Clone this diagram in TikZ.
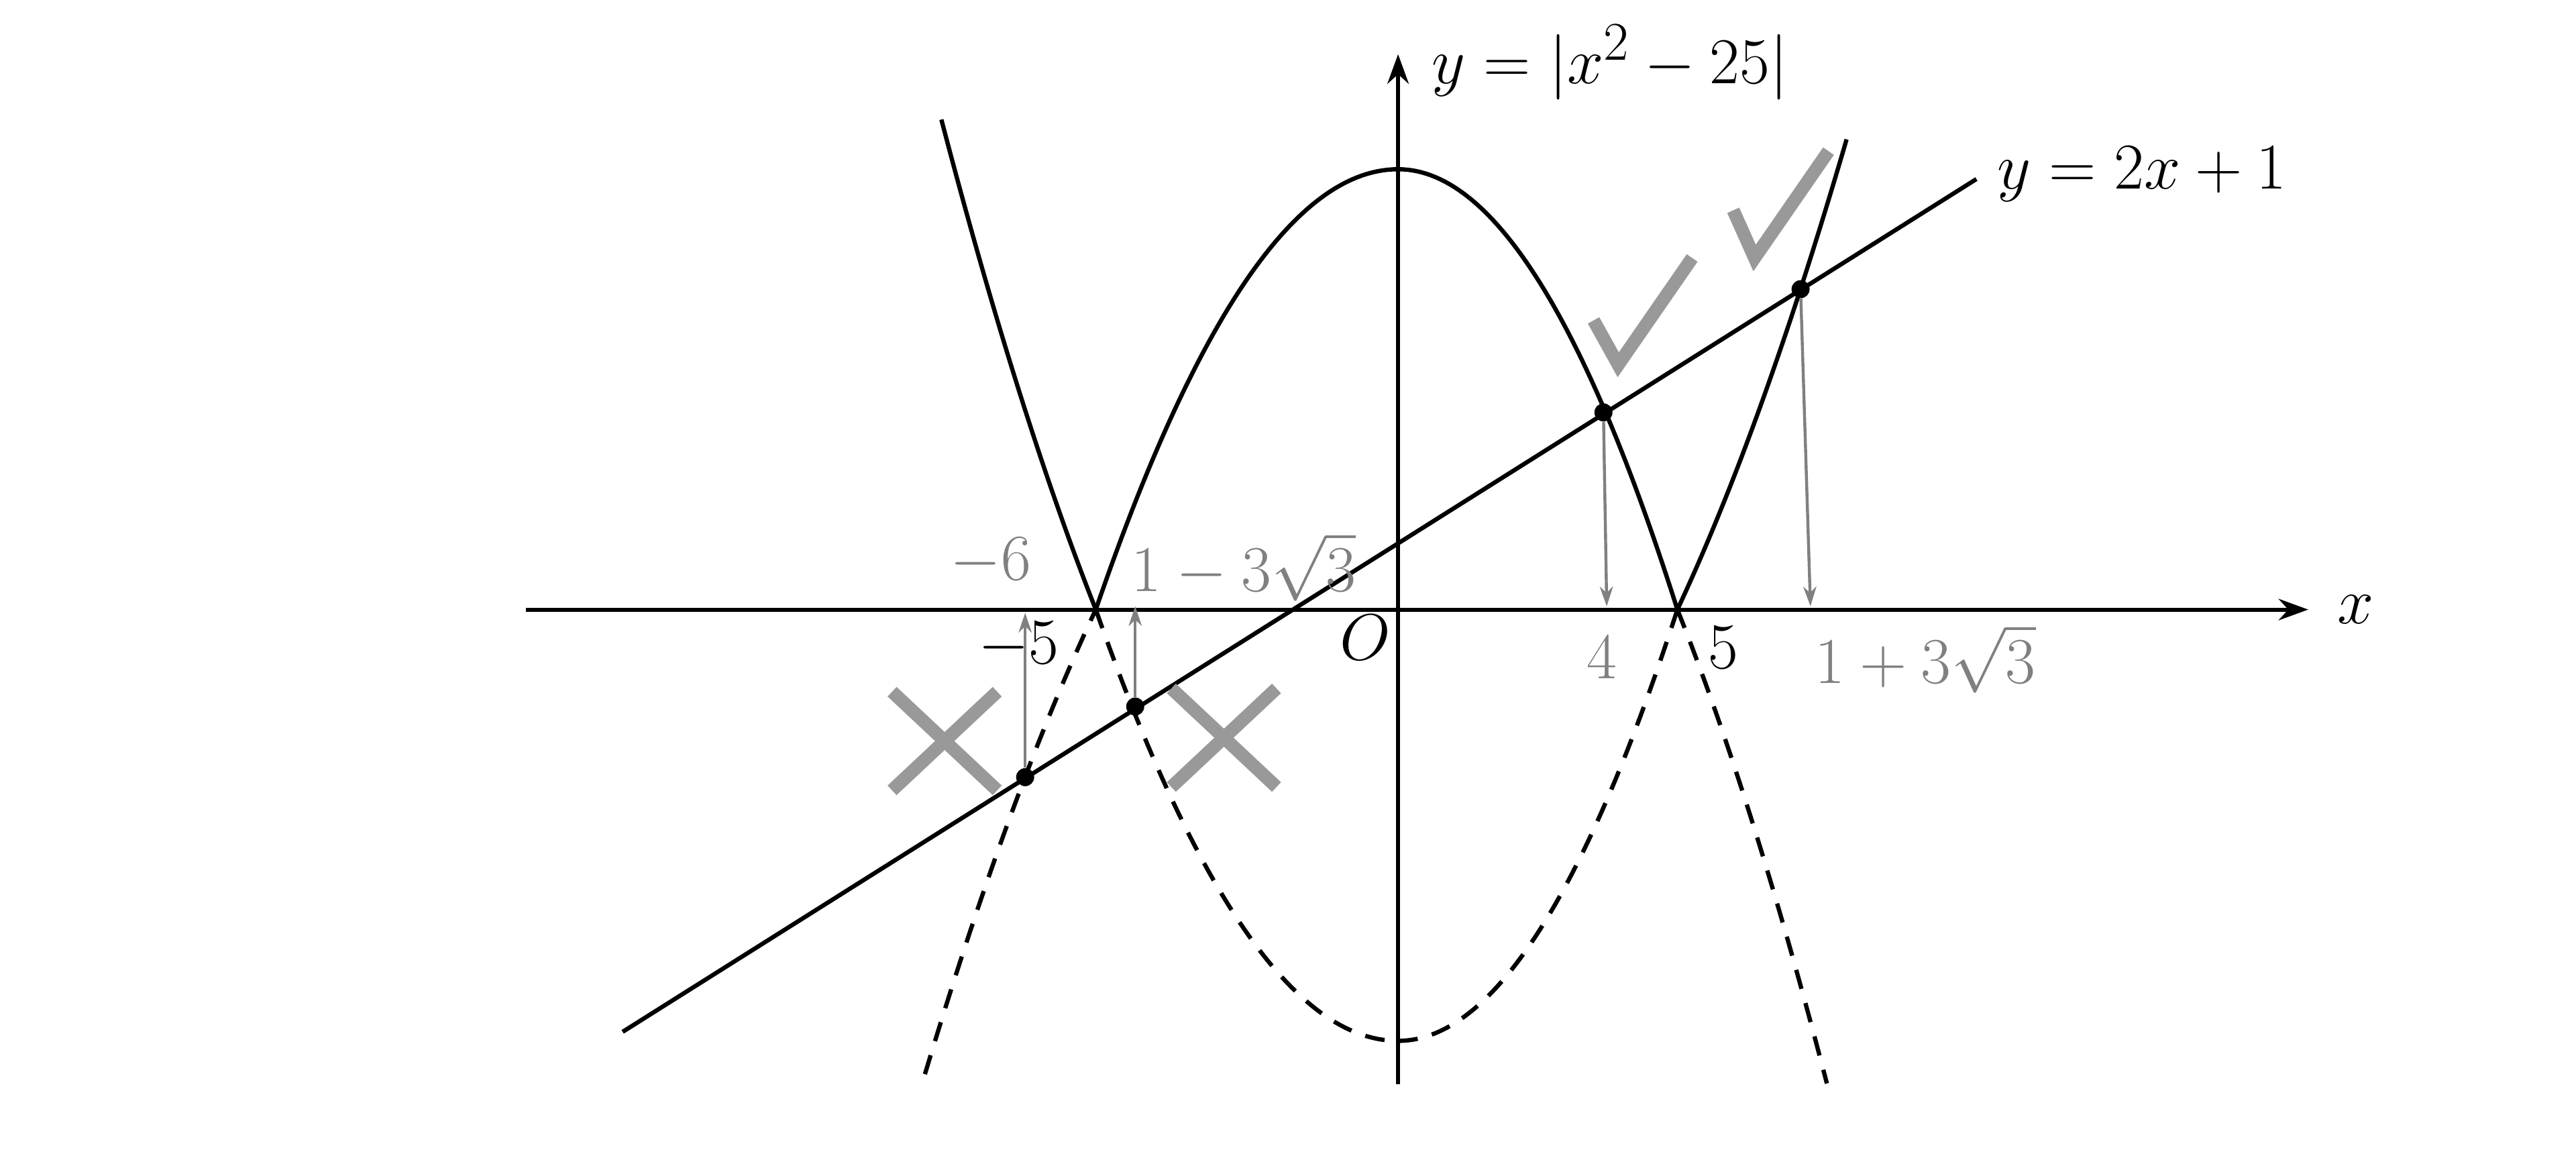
\documentclass[tikz,border=0pt]{standalone}
\usetikzlibrary{arrows.meta}
\begin{document}
\begin{tikzpicture}[x=1pt,y=-1pt,
  curve/.style={line width=2.6pt},
  dcurve/.style={line width=2.6pt,dash pattern=on 12pt off 9pt},
  garrow/.style={gray,line width=1.8pt,-{Stealth[length=12pt,width=8pt]}},
  glabel/.style={text=gray,font=\fontsize{24.88}{28}\selectfont,scale=1.6,transform shape},
  blabel/.style={font=\fontsize{24.88}{28}\selectfont,scale=1.6,transform shape},
  mark1/.style={gray!80,line width=8pt},
  dot/.style={circle,fill=black,inner sep=0pt,minimum size=11pt}]
\useasboundingbox (0,0) rectangle (1568,706);
% axes
\coordinate (xs) at (320,371); \coordinate (xe) at (1405,371);
\coordinate (ys) at (851,660); \coordinate (ye) at (851,33);
\draw[line width=2.4pt,-{Stealth[length=18pt,width=13pt]}] (xs) -- (xe);
\draw[line width=2.4pt,-{Stealth[length=18pt,width=13pt]}] (ys) -- (ye);
% curves
\draw[curve] plot[domain=573:667,samples=40] (\x,{371-9.3*(((\x-851)/36.8)^2-25)});
\draw[curve] plot[domain=667:851,samples=60] (\x,{371-10.72*(25-((\x-851)/36.8)^2)});
\draw[curve] plot[domain=851:1021,samples=60] (\x,{371-10.72*(25-((\x-851)/34)^2)});
\draw[curve] plot[domain=1021:1124,samples=40] (\x,{371-7.25*(((\x-851)/34)^2-25)});
\draw[dcurve] plot[domain=563:667,samples=40] (\x,{371+7.8*(((\x-851)/36.8)^2-25)});
\draw[dcurve] plot[domain=667:851,samples=60] (\x,{371+10.5*(25-((\x-851)/36.8)^2)});
\draw[dcurve] plot[domain=851:1021,samples=60] (\x,{371+10.5*(25-((\x-851)/34)^2)});
\draw[dcurve] plot[domain=1021:1112,samples=40] (\x,{371+8.5*(((\x-851)/34)^2-25)});
% line
\coordinate (la) at (379,628); \coordinate (lb) at (1203,109);
\draw[curve] (la) -- (lb);
% points
\node[dot] (p1) at (624,473) {};
\node[dot] (p2) at (691,430) {};
\node[dot] (p3) at (976,251) {};
\node[dot] (p4) at (1096,176) {};
\coordinate (q1) at (624,373); \coordinate (q2) at (691,369);
\coordinate (q3) at (978,369); \coordinate (q4) at (1102,369);
\draw[garrow] (p1) -- (q1);
\draw[garrow] (p2) -- (q2);
\draw[garrow] (p3) -- (q3);
\draw[garrow] (p4) -- (q4);
% labels
\node[glabel] (l6) at (603,342) {$-6$};
\node[glabel] (l13) at (757,345) {$1-3\sqrt{3}$};
\node[glabel] (l4) at (975,400) {$4$};
\node[glabel] (l14) at (1172,401) {$1+3\sqrt{3}$};
\node[blabel] (m5) at (620,393) {$-5$};
\node[blabel] (p5) at (1049,394) {$5$};
\node[blabel] (o) at (831,388) {$O$};
\node[blabel] (xl) at (1434,371) {$x$};
\node[blabel,anchor=west] (yl) at (866,38) {$y=|x^2-25|$};
\node[blabel,anchor=west] (ll) at (1210,106) {$y=2x+1$};
% crosses
\draw[mark1] (543,421) -- (607,481) (607,421) -- (543,481);
\draw[mark1] (713,419) -- (777,479) (777,419) -- (713,479);
% checks
\draw[mark1] (970,195) -- (985,222) -- (1030,157);
\draw[mark1] (1055,128) -- (1068,157) -- (1113,92);
\end{tikzpicture}
\end{document}
